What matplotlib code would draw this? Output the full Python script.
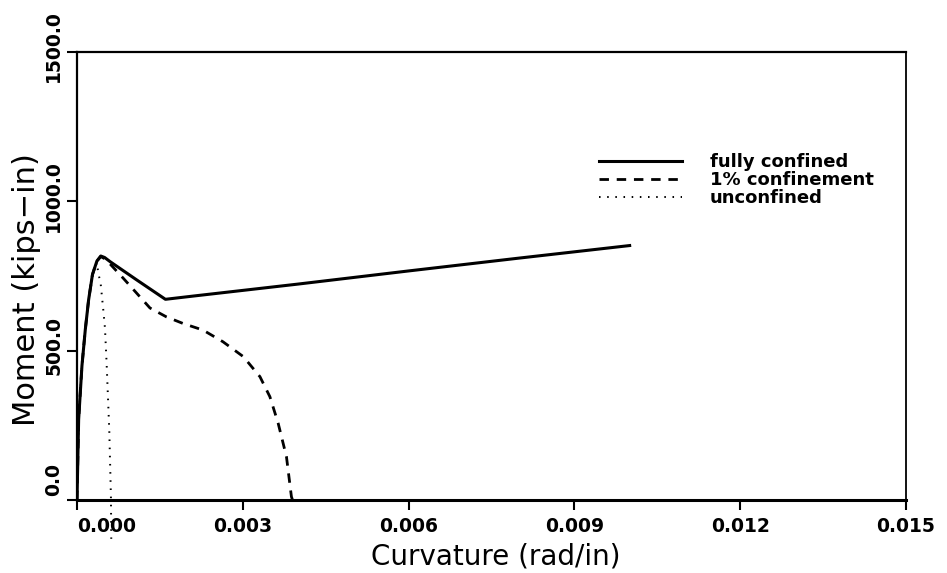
import matplotlib.pyplot as plt
import numpy as np

# curvature (rad/in) vs moment (kips-in)
fully_x = [0.0, 0.00003, 0.00009, 0.00015, 0.00021, 0.00028, 0.00036, 0.00043, 0.0005,
           0.0006, 0.00108, 0.00160, 0.00211, 0.004, 0.006, 0.008, 0.0100]
fully_y = [0, 270, 450, 570, 670, 755, 800, 817, 812, 798, 737, 672, 683, 723, 767, 810, 852]

conf1_x = [0.0, 0.00003, 0.00009, 0.00015, 0.00021, 0.00028, 0.00036, 0.00043, 0.0005,
           0.0006, 0.00084, 0.00132, 0.00162, 0.00192, 0.00228, 0.00264, 0.00301, 0.00331,
           0.00349, 0.00364, 0.00379, 0.00388, 0.0039]
conf1_y = [0, 270, 450, 570, 670, 755, 800, 815, 808, 790, 742, 643, 613, 591, 569, 530, 480,
           413, 346, 257, 145, 11, 0]

unconf_x = [0.0, 0.00003, 0.00009, 0.00015, 0.00021, 0.00028, 0.00036, 0.000386, 0.000428,
            0.000476, 0.000506, 0.000536, 0.000584, 0.000614, 0.00062]
unconf_y = [0, 270, 450, 570, 670, 755, 795, 759, 725, 636, 576, 458, 234, 11, -130]

xticks = [0.0, 0.003, 0.006, 0.009, 0.012, 0.015]
yticks = [0.0, 500.0, 1000.0, 1500.0]

fig = plt.figure(figsize=(9.47, 5.73), dpi=100, facecolor='white')
ax = fig.add_axes([0.0813, 0.1274, 0.8754, 0.7818])

ax.plot(unconf_x, unconf_y, color='black', lw=1.4, linestyle=(0, (0.8, 3.4)),
        label='unconfined', clip_on=False, zorder=2)
ax.plot(conf1_x, conf1_y, color='black', lw=2.0, linestyle=(0, (3.4, 2.8)),
        label='1% confinement', zorder=3)
ax.plot(fully_x, fully_y, color='black', lw=2.2, label='fully confined', zorder=4)

ax.set_xlim(0, 0.015)
ax.set_ylim(0, 1500)

ax.set_xticks(xticks)
ax.set_xticklabels(['%.3f' % v for v in xticks], fontsize=13.5, fontweight='bold')
ax.get_xticklabels()[0].set_horizontalalignment('left')
ax.set_yticks(yticks)
ax.set_yticklabels([])

# the old plotter put the y labels a little above their ticks
for v, dy in zip(yticks, [15, 3.5, 3.5, 4.5]):
    ax.annotate('%.1f' % v, xy=(0, v), xycoords=('axes fraction', 'data'),
                xytext=(-10, dy), textcoords='offset points', rotation=90,
                ha='right', va='center', fontsize=13.5, fontweight='bold')

ax.tick_params(axis='x', direction='out', length=7, width=1.5, pad=5)
ax.tick_params(axis='y', direction='out', length=7, width=1.5)
ax.spines['left'].set_linewidth(1.6)
ax.spines['bottom'].set_linewidth(2.2)
ax.spines['top'].set_linewidth(1.6)
ax.spines['right'].set_linewidth(1.3)

fig.text(496 / 947, 1 - 557 / 573, 'Curvature (rad/in)', fontsize=20,
         ha='center', va='center')
fig.text(27 / 947, 1 - 290 / 573, 'Moment (kips\u2212in)', fontsize=22,
         rotation=90, ha='center', va='center')

handles, labels = ax.get_legend_handles_labels()
leg = ax.legend(handles[::-1], labels[::-1], loc='upper left', bbox_to_anchor=(0.61, 0.81),
                frameon=False, handlelength=4.6, handletextpad=1.55, labelspacing=0.0,
                prop={'weight': 'bold', 'size': 13})

fig.savefig('out.png', dpi=100)
